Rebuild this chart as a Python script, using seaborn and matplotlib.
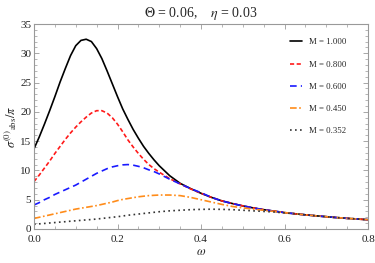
import numpy as np
import pandas as pd
import matplotlib
matplotlib.use("Agg")
import matplotlib.pyplot as plt
from matplotlib.ticker import MultipleLocator, FormatStrFormatter
import seaborn as sns

# --- Data ---
omega = [0.0, 0.0125, 0.025, 0.0375, 0.05, 0.0625, 0.075, 0.0875, 0.1, 0.1125,
         0.125, 0.1375, 0.15, 0.1625, 0.175, 0.1875, 0.2, 0.2125, 0.225, 0.2375,
         0.25, 0.2625, 0.275, 0.2875, 0.3, 0.325, 0.35, 0.375, 0.4, 0.425,
         0.45, 0.475, 0.5, 0.525, 0.55, 0.575, 0.6, 0.625, 0.65, 0.675,
         0.7, 0.725, 0.75, 0.775, 0.8]

sigma_m1000 = [13.7, 15.7, 17.9, 20.2, 22.6, 25.1, 27.4, 29.6, 31.3, 32.2,
               32.4, 32.0, 30.8, 29.1, 27.0, 24.8, 22.6, 20.5, 18.7, 17.0,
               15.5, 14.1, 12.9, 11.8, 10.8, 9.1, 7.8, 6.9, 6.1, 5.4,
               4.8, 4.35, 3.95, 3.6, 3.3, 3.05, 2.8, 2.6, 2.42, 2.25,
               2.1, 1.95, 1.82, 1.7, 1.58]
sigma_m0800 = [8.1, 9.2, 10.4, 11.6, 12.9, 14.1, 15.3, 16.4, 17.4, 18.3,
               19.1, 19.8, 20.2, 20.2, 19.8, 19.0, 17.9, 16.6, 15.2, 14.0,
               12.9, 11.9, 11.0, 10.3, 9.7, 8.6, 7.7, 6.85, 6.1, 5.4,
               4.8, 4.35, 3.95, 3.6, 3.3, 3.05, 2.8, 2.6, 2.42, 2.25,
               2.1, 1.95, 1.82, 1.7, 1.58]
sigma_m0600 = [4.1, 4.5, 5.0, 5.4, 5.9, 6.3, 6.7, 7.1, 7.5, 8.0,
               8.5, 9.0, 9.5, 9.9, 10.3, 10.6, 10.8, 10.95, 11.0, 10.9,
               10.7, 10.45, 10.1, 9.8, 9.4, 8.5, 7.7, 6.9, 6.2, 5.4,
               4.8, 4.35, 3.95, 3.6, 3.3, 3.05, 2.8, 2.6, 2.42, 2.25,
               2.1, 1.95, 1.82, 1.7, 1.58]
sigma_m0450 = [1.8, 2.0, 2.2, 2.4, 2.6, 2.8, 3.0, 3.2, 3.4, 3.55,
               3.7, 3.85, 4.0, 4.2, 4.4, 4.6, 4.85, 5.05, 5.2, 5.35,
               5.5, 5.6, 5.7, 5.75, 5.8, 5.8, 5.7, 5.4, 5.0, 4.6,
               4.2, 3.85, 3.6, 3.4, 3.2, 3.0, 2.8, 2.6, 2.42, 2.25,
               2.1, 1.95, 1.82, 1.7, 1.58]
sigma_m0352 = [0.8, 0.88, 0.95, 1.03, 1.1, 1.18, 1.25, 1.33, 1.4, 1.48,
               1.55, 1.62, 1.7, 1.8, 1.9, 2.0, 2.1, 2.22, 2.35, 2.45,
               2.55, 2.65, 2.75, 2.85, 2.95, 3.1, 3.2, 3.3, 3.35, 3.38,
               3.35, 3.3, 3.2, 3.1, 3.0, 2.9, 2.75, 2.6, 2.42, 2.25,
               2.1, 1.95, 1.82, 1.7, 1.58]

labels = ["M = 1.000", "M = 0.800", "M = 0.600", "M = 0.450", "M = 0.352"]
series = [sigma_m1000, sigma_m0800, sigma_m0600, sigma_m0450, sigma_m0352]

colors = ["black", "#ff1a1a", "#1a1aff", "#ff8c1a", "#333333"]
dashes = [None, (2.5, 1.5), (4, 2.5), (4, 1.5, 1, 1.5), (1, 2)]

# --- Style ---
sns.set_style("ticks")
plt.rcParams["font.family"] = ["Liberation Serif", "DejaVu Serif"]
plt.rcParams["mathtext.fontset"] = "stix"

fig = plt.figure(figsize=(3.75, 2.63), dpi=100)
ax = fig.add_subplot(111)
fig.subplots_adjust(left=34/375, right=368/375, top=1-24/263, bottom=1-229/263)

for lab, vals, c, d in zip(labels, series, colors, dashes):
    df = pd.DataFrame({"omega": omega, "sigma": vals})
    sns.lineplot(data=df, x="omega", y="sigma", ax=ax, color=c, lw=1.2, label=lab)
    if d is not None:
        ax.get_lines()[-1].set_dashes(d)

ax.set_xlim(0, 0.8)
ax.set_ylim(0, 35)
ax.xaxis.set_major_locator(MultipleLocator(0.2))
ax.xaxis.set_minor_locator(MultipleLocator(0.05))
ax.yaxis.set_major_locator(MultipleLocator(5))
ax.yaxis.set_minor_locator(MultipleLocator(1))
ax.xaxis.set_major_formatter(FormatStrFormatter("%.1f"))

frame_c = "#999999"
for s in ax.spines.values():
    s.set_color(frame_c)
    s.set_linewidth(0.8)
ax.tick_params(which="both", direction="in", top=True, right=True,
               color=frame_c, labelsize=8, labelcolor="#222222")
ax.tick_params(axis="x", pad=4)
ax.tick_params(axis="y", pad=2)
ax.tick_params(which="major", length=3.5, width=0.6)
ax.tick_params(which="minor", length=2, width=0.5)

ax.set_xlabel(r"$\omega$", fontsize=9, labelpad=2)
ax.set_ylabel(r"$\sigma^{(0)}{}_{\mathrm{abs}}/\pi$", fontsize=9, labelpad=1)
ax.set_title(r"$\Theta$ = 0.06,    $\eta$ = 0.03", fontsize=10, pad=5)

leg = ax.legend(loc="upper right", bbox_to_anchor=(0.935, 0.93), frameon=False,
                fontsize=6.3, handlelength=1.4, handletextpad=0.8,
                labelspacing=1.6, borderaxespad=0, borderpad=0)

plt.savefig("out.png", dpi=100)
plt.close()
